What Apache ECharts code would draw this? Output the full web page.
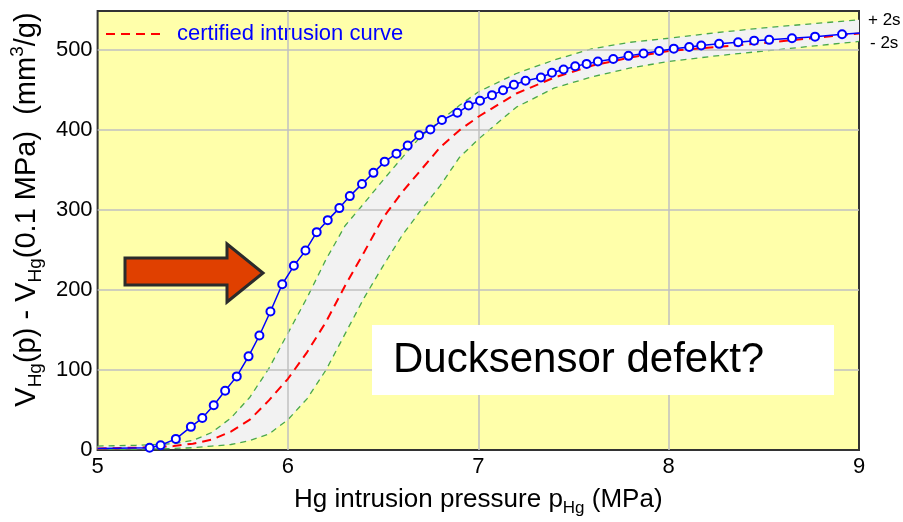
<!DOCTYPE html>
<html>
<head>
<meta charset="utf-8">
<script src="https://cdn.jsdelivr.net/npm/echarts@6/dist/echarts.min.js"></script>
<style>
  html, body { margin: 0; padding: 0; background: #fff; }
  #chart { width: 903px; height: 522px; }
</style>
</head>
<body>
<div id="chart"></div>
<script>
// Pressure grid (MPa) shared by the certified curve and its ±2s band
const bandPressure = [5.0, 5.2, 5.4, 5.5, 5.6, 5.7, 5.8, 5.9, 6.0, 6.1, 6.2, 6.3, 6.4, 6.5, 6.6, 6.7, 6.8, 6.9, 7.0, 7.2, 7.4, 7.6, 7.8, 8.0, 8.25, 8.5, 8.75, 9.0];
const certifiedVolume = [2, 3, 5, 8, 13, 23, 38, 62, 89, 122, 160, 205, 247, 290, 322, 350, 378, 399, 416, 445, 465, 480, 490, 498, 503, 508, 514, 520];
const upperVolume = [5, 6, 8, 12, 22, 40, 66, 102, 146, 190, 238, 280, 308, 337, 365, 392, 411, 430, 447, 470, 487, 501, 509, 514, 521, 527, 532, 537];
const lowerVolume = [1, 1, 2, 3, 5, 7, 12, 20, 38, 64, 100, 145, 190, 230, 268, 300, 330, 365, 388, 428, 452, 466, 477, 485, 492, 498, 504, 510];

// Measured intrusion run
const measuredPressure = [5.0, 5.273, 5.331, 5.411, 5.49, 5.55, 5.61, 5.67, 5.731, 5.793, 5.85, 5.908, 5.97, 6.031, 6.092, 6.151, 6.209, 6.27, 6.325, 6.389, 6.449, 6.508, 6.57, 6.629, 6.689, 6.748, 6.809, 6.89, 6.949, 7.009, 7.072, 7.13, 7.187, 7.248, 7.329, 7.387, 7.448, 7.509, 7.569, 7.628, 7.709, 7.789, 7.868, 7.95, 8.027, 8.108, 8.171, 8.265, 8.365, 8.449, 8.528, 8.648, 8.769, 8.911, 9.04];
const measuredVolume = [2, 3, 6, 14, 29, 40, 56, 74, 92, 117, 143, 173, 207, 230, 249, 272, 287, 302, 317, 332, 346, 360, 370, 380, 393, 400, 412, 421, 430, 436, 443, 449, 456, 461, 465, 471, 475, 479, 482, 485, 488, 492, 495, 498, 501, 503, 505, 507, 509, 511, 512, 514, 516, 519, 521];

// Axis ticks
const xTicks = [5, 6, 7, 8, 9];
const yTicks = [0, 100, 200, 300, 400, 500];

const FONT = 'Liberation Sans, Arial, sans-serif';
const pairs = (xs, ys) => xs.map((x, i) => [x, ys[i]]);

const measuredData = pairs(measuredPressure, measuredVolume).map((p, i) =>
  i === 0 ? { value: p, symbol: 'none' } : p);

const chart = echarts.init(document.getElementById('chart'), null, { renderer: 'canvas' });

// Shaded ±2s band: polygon along the upper curve and back along the lower one
function renderBand(params, api) {
  const upper = bandPressure.map((p, i) => api.coord([p, upperVolume[i]]));
  const lower = bandPressure.map((p, i) => api.coord([p, lowerVolume[i]])).reverse();
  return {
    type: 'polygon',
    shape: { points: upper.concat(lower), smooth: 0 },
    style: { fill: '#f2f2f2', stroke: null }
  };
}

chart.setOption({
  animation: false,
  backgroundColor: '#ffffff',
  textStyle: { fontFamily: FONT },
  grid: {
    left: 97, right: 44, top: 11, bottom: 63,
    show: true,
    backgroundColor: '#ffffaa',
    borderColor: '#333333',
    borderWidth: 2
  },
  legend: {
    data: ['certified intrusion curve'],
    left: 105, top: 23, padding: 0,
    itemWidth: 58, itemHeight: 12, itemGap: 8,
    itemStyle: { opacity: 0 },
    textStyle: { color: '#0000ff', fontSize: 22, fontFamily: FONT, padding: [0, 0, 0, 8] }
  },
  xAxis: {
    type: 'value', min: xTicks[0], max: xTicks[xTicks.length - 1], interval: 1,
    axisLine: { show: false }, axisTick: { show: false }, splitLine: { show: false },
    axisLabel: { color: '#000', fontSize: 22, margin: 6, fontFamily: FONT },
    name: 'Hg intrusion pressure p{s|Hg} (MPa)',
    nameLocation: 'middle', nameGap: 30,
    nameTextStyle: {
      color: '#000', fontSize: 26, lineHeight: 34, fontFamily: FONT,
      rich: { s: { fontSize: 17, lineHeight: 17, verticalAlign: 'bottom', fontFamily: FONT, color: '#000' } }
    }
  },
  yAxis: {
    type: 'value', min: 0, max: 548, interval: 100,
    axisLine: { show: false }, axisTick: { show: false }, splitLine: { show: false },
    axisLabel: {
      color: '#000', fontSize: 22, margin: 5, fontFamily: FONT,
      formatter: v => (yTicks.indexOf(v) >= 0 ? String(v) : '')
    },
    name: 'V{s|Hg}(p) - V{s|Hg}(0.1 MPa)  (mm{u|3}/g)',
    nameLocation: 'middle', nameGap: 48, nameRotate: 90,
    nameTextStyle: {
      color: '#000', fontSize: 29, lineHeight: 37, fontFamily: FONT,
      padding: [0, 0, 0, 42],
      rich: {
        s: { fontSize: 19, lineHeight: 19, verticalAlign: 'bottom', fontFamily: FONT, color: '#000' },
        u: { fontSize: 19, lineHeight: 19, verticalAlign: 'top', fontFamily: FONT, color: '#000' }
      }
    }
  },
  series: [
    {
      name: 'band', type: 'custom', z: 2, silent: true,
      data: [0], renderItem: renderBand
    },
    {
      name: 'grid lines', type: 'line', z: 3, silent: true, data: [],
      markLine: {
        silent: true, symbol: 'none', animation: false,
        label: { show: false },
        lineStyle: { color: '#c0c0c0', width: 1.5, type: 'solid' },
        data: xTicks.slice(1, -1).map(x => ({ xAxis: x }))
          .concat(yTicks.slice(1).map(y => ({ yAxis: y })))
      }
    },
    {
      name: '+2s', type: 'line', z: 4, silent: true,
      data: pairs(bandPressure, upperVolume), symbol: 'none',
      lineStyle: { color: '#4aa84a', width: 1.3, type: [6, 5] },
      endLabel: { show: true, formatter: '+ 2s', color: '#000', fontSize: 17, distance: 9, fontFamily: FONT }
    },
    {
      name: '-2s', type: 'line', z: 4, silent: true,
      data: pairs(bandPressure, lowerVolume), symbol: 'none',
      lineStyle: { color: '#4aa84a', width: 1.3, type: [6, 5] },
      endLabel: { show: true, formatter: '- 2s', color: '#000', fontSize: 17, distance: 11, fontFamily: FONT, offset: [0, 2] }
    },
    {
      name: 'certified intrusion curve', type: 'line', z: 5,
      data: pairs(bandPressure, certifiedVolume), symbol: 'none',
      lineStyle: { color: '#ff0000', width: 2, type: [9, 6] },
      itemStyle: { color: '#ff0000' }
    },
    {
      name: 'measured', type: 'line', z: 6, clip: true,
      data: measuredData,
      symbol: 'circle', symbolSize: 8,
      lineStyle: { color: '#0000ff', width: 1.5 },
      itemStyle: { color: '#ffffff', borderColor: '#0000ff', borderWidth: 2 }
    }
  ],
  graphic: [
    {
      type: 'polygon', z: 100,
      shape: { points: [[125, 258], [227, 258], [227, 244], [263, 273], [227, 302], [227, 285], [125, 285]] },
      style: { fill: '#e04000', stroke: '#2b2b2b', lineWidth: 3, lineJoin: 'miter' }
    },
    {
      type: 'rect', z: 100,
      shape: { x: 372, y: 325, width: 462, height: 70 },
      style: { fill: '#ffffff' }
    },
    {
      type: 'text', z: 101, left: 393, top: 339,
      style: { text: 'Ducksensor defekt?', fill: '#000', font: '42px ' + FONT }
    }
  ]
});
</script>
</body>
</html>
